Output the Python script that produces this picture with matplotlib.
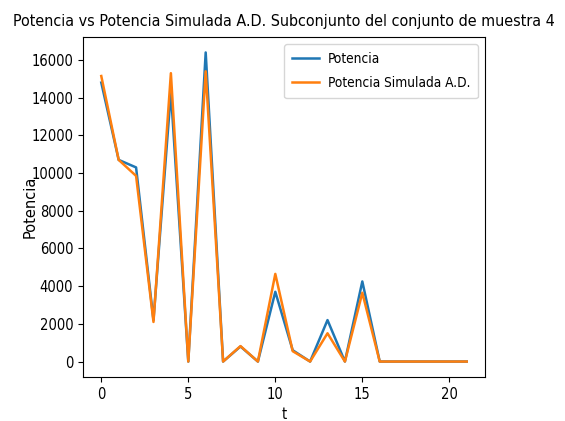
import matplotlib
matplotlib.use("Agg")
import matplotlib.pyplot as plt
from matplotlib import font_manager as fm

# ---- data ----
t = list(range(22))
potencia = [14800, 10700, 10300, 2200, 14300, 0, 16400, 0, 800, 0, 3700, 600,
            0, 2200, 0, 4250, 0, 0, 0, 0, 0, 0]
potencia_sim = [15150, 10700, 9850, 2100, 15300, 0, 15400, 0, 820, 0, 4650, 550,
                0, 1500, 0, 3650, 0, 0, 0, 0, 0, 0]
title = "Potencia vs Potencia Simulada A.D. Subconjunto del conjunto de muestra 4"
xlabel = "t"
ylabel = "Potencia"
labels = ["Potencia", "Potencia Simulada A.D."]

names = {f.name for f in fm.fontManager.ttflist}
if "Liberation Sans Narrow" in names:
    narrow = ["Liberation Sans Narrow", "DejaVu Sans"]
    stretch = "normal"
else:
    narrow = ["DejaVu Sans"]
    stretch = "condensed"

fig = plt.figure(figsize=(5.65, 4.21), dpi=100)
ax = fig.add_axes([83/565, 44/421, 402/565, 340/421])

ax.plot(t, potencia, color="#1f77b4", lw=1.8, label=labels[0])
ax.plot(t, potencia_sim, color="#ff7f0e", lw=1.8, label=labels[1])

ax.set_xticks([0, 5, 10, 15, 20])
ax.set_yticks(range(0, 16001, 2000))
for lab in ax.get_xticklabels() + ax.get_yticklabels():
    lab.set_family(narrow)
    lab.set_fontstretch(stretch)
    lab.set_fontsize(10.5)

ax.set_title(title, family=narrow, fontstretch=stretch, fontsize=11.5, pad=8)
ax.set_xlabel(xlabel, family=narrow, fontstretch=stretch, fontsize=10.5)
ax.set_ylabel(ylabel, fontsize=10.5)
ax.yaxis.set_label_coords(-0.112, 0.5)

leg = ax.legend(loc="upper right",
                prop=fm.FontProperties(family=narrow, stretch=stretch, size=9.8),
                handlelength=2.0, handletextpad=0.6, labelspacing=0.75,
                borderpad=0.6, borderaxespad=0.5)

fig.savefig("out.png", dpi=100)
